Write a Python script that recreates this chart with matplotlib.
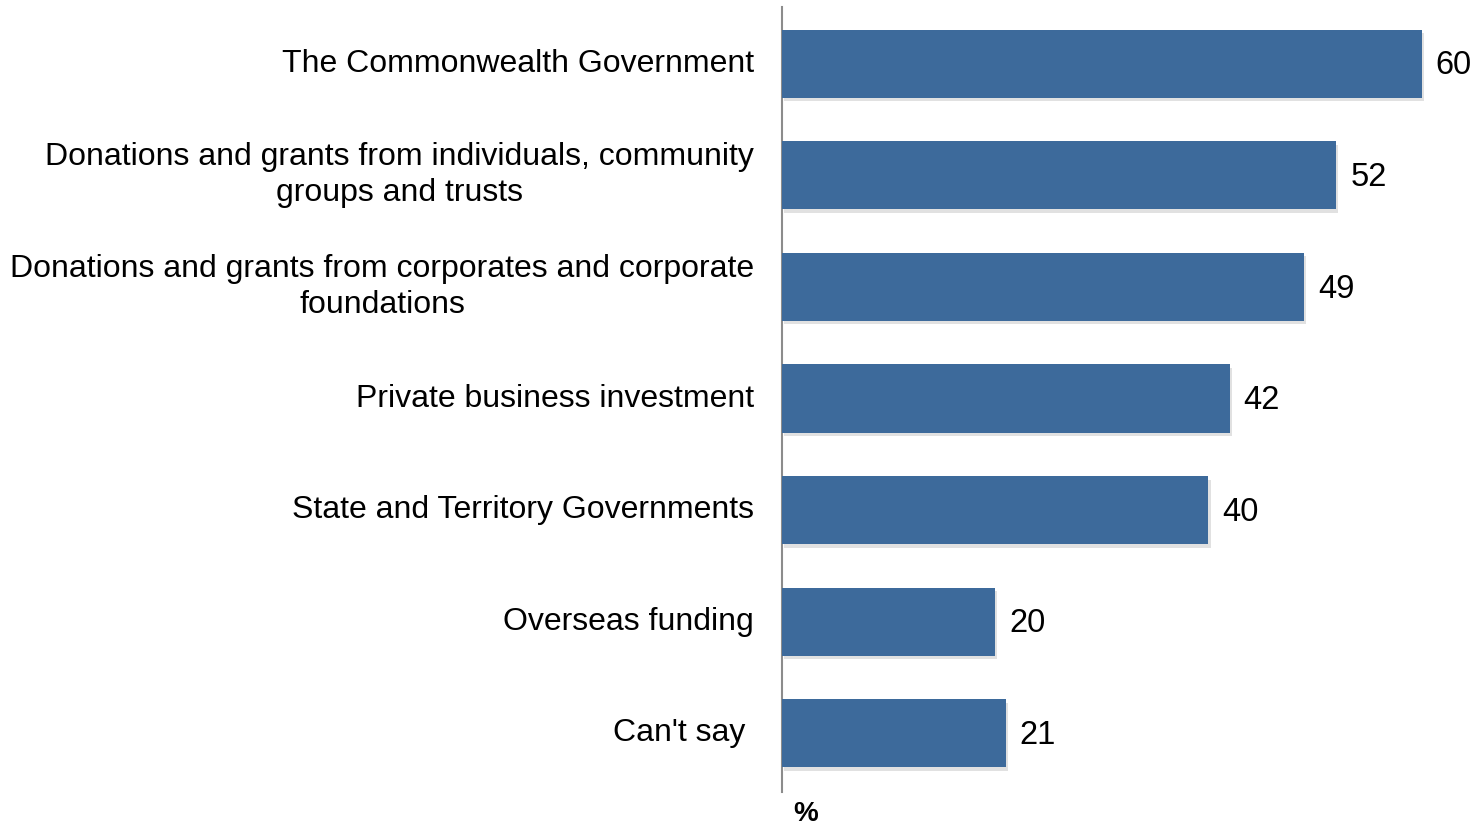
import matplotlib.pyplot as plt
import matplotlib.patheffects as pe

plt.rcParams['font.family'] = ['Liberation Sans', 'DejaVu Sans']

categories = [
    "The Commonwealth Government",
    "Donations and grants from individuals, community\ngroups and trusts",
    "Donations and grants from corporates and corporate\nfoundations",
    "Private business investment",
    "State and Territory Governments",
    "Overseas funding",
    "Can't say ",
]
values = [60, 52, 49, 42, 40, 20, 21]

fig = plt.figure(figsize=(14.75, 8.25), dpi=100)
ax = fig.add_axes([782 / 1475, 36 / 825, 693 / 1475, 781 / 825])

ypos = list(range(len(categories)))
bars = ax.barh(ypos, values, height=0.61, color="#3d6a9b", zorder=3)
for b in bars:
    b.set_path_effects([pe.SimplePatchShadow(offset=(1.5, -2.5), shadow_rgbFace="#aaaaaa", alpha=0.35),
                        pe.Normal()])

for y, v in zip(ypos, values):
    ax.annotate(str(v), (v, y), xytext=(10, -1.5), textcoords="offset points",
                va="center", ha="left", fontsize=23.5)

ax.set_xlim(0, 65)
ax.set_ylim(len(categories) - 0.5, -0.5)
ax.set_yticks(ypos)
ax.set_yticklabels(categories, fontsize=23, multialignment="center", linespacing=1.25)
ax.tick_params(axis="y", length=0, pad=20)
for lbl in ax.get_yticklabels():
    lbl.set_va("center")
ax.set_xticks([])

for s in ["top", "right", "bottom"]:
    ax.spines[s].set_visible(False)
ax.spines["left"].set_color("#8c8c8c")
ax.spines["left"].set_linewidth(1.5)
ax.spines["left"].set_bounds(len(categories) - 0.47, -0.51)

fig.text(806 / 1475, 1 - 814 / 825, "%", fontsize=20, fontweight="bold",
         ha="center", va="center")

fig.savefig("out.png", dpi=100)
